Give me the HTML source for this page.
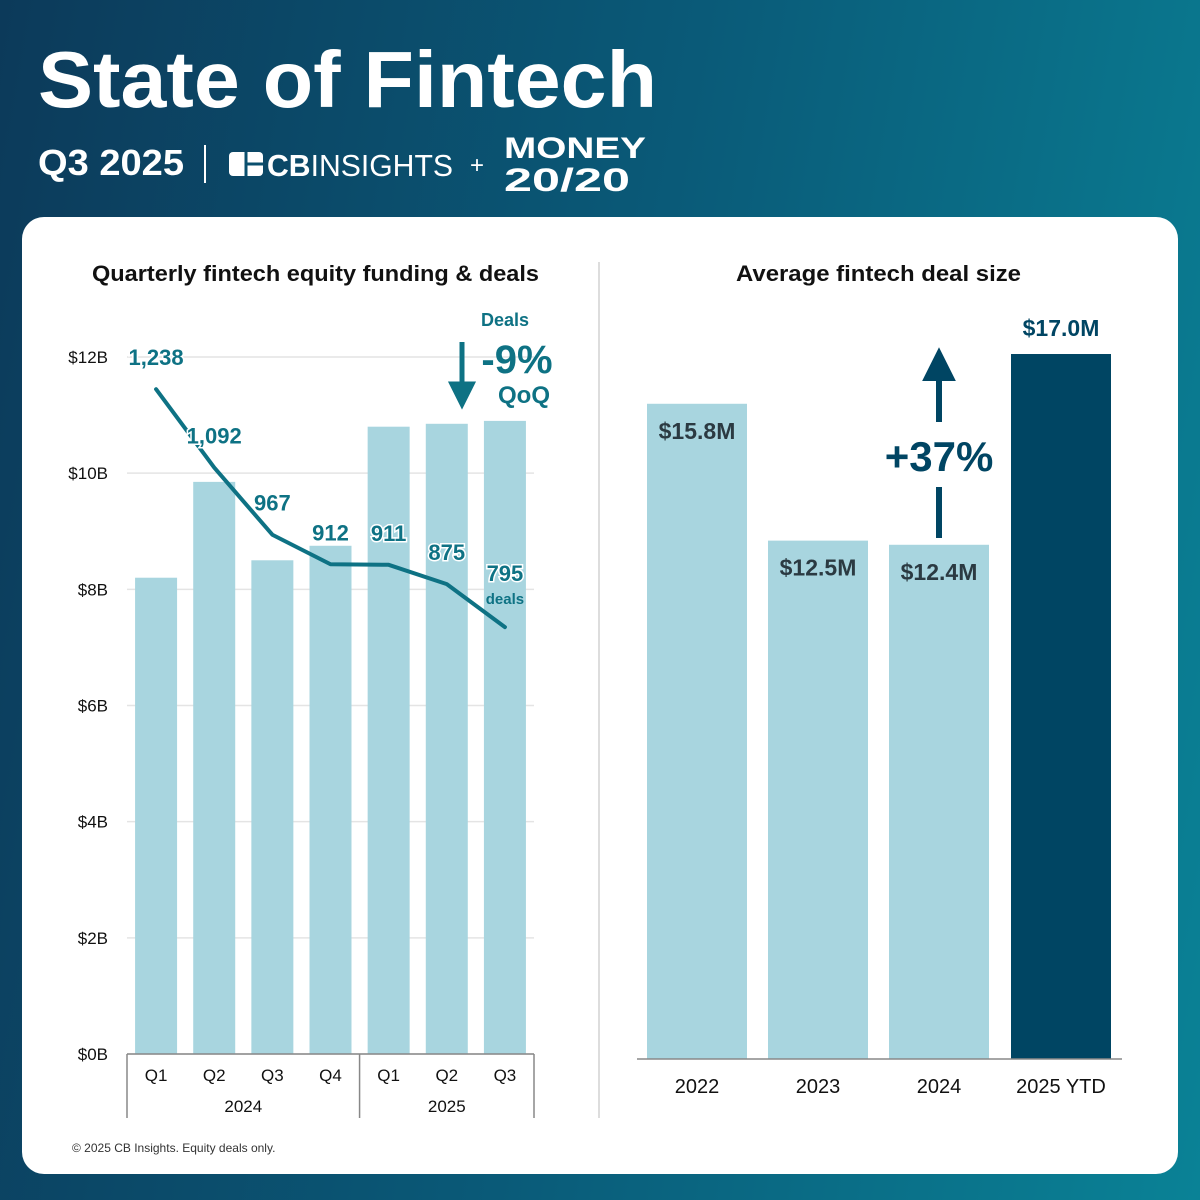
<!DOCTYPE html>
<html><head><meta charset="utf-8"><style>
html,body{margin:0;padding:0;width:1200px;height:1200px;overflow:hidden;font-family:"Liberation Sans",sans-serif}
#bg{position:absolute;left:0;top:0;width:1200px;height:1200px;background:linear-gradient(100deg,#0c3a5a 0%,#0a5a78 50%,#0a8296 100%)}
</style></head><body>
<div id="bg"></div>
<svg id="svg" width="1200" height="1200" style="position:absolute;left:0;top:0" font-family="Liberation Sans, sans-serif">
<text x="38" y="107" fill="#fff" font-size="80" font-weight="bold" textLength="619" lengthAdjust="spacingAndGlyphs">State of Fintech</text>
<text x="38" y="175" fill="#fff" font-size="36" font-weight="bold" textLength="146" lengthAdjust="spacingAndGlyphs">Q3 2025</text>
<line x1="205" y1="145" x2="205" y2="183" stroke="#fff" stroke-width="2"/>
<g>
<rect x="229" y="152" width="34" height="24" rx="4" fill="#fff"/>
<line x1="246" y1="152" x2="246" y2="176" stroke="#0a4f6e" stroke-width="3"/>
<line x1="246" y1="164" x2="263" y2="164" stroke="#0a4f6e" stroke-width="3"/>
<text x="267" y="176" fill="#fff" font-size="31" textLength="186" lengthAdjust="spacingAndGlyphs"><tspan font-weight="bold">CB</tspan>INSIGHTS</text>
</g>
<text x="470" y="173" fill="#fff" font-size="24">+</text>
<text x="504" y="158" fill="#fff" font-size="30" font-weight="bold" textLength="142" lengthAdjust="spacingAndGlyphs">MONEY</text>
<text x="504" y="191" fill="#fff" font-size="32" font-weight="bold" textLength="126" lengthAdjust="spacingAndGlyphs">20/20</text>
<rect x="22" y="217" width="1156" height="957" rx="22" fill="#fff"/>
<line x1="599" y1="262" x2="599" y2="1118" stroke="#ddd" stroke-width="2"/>
<text x="92" y="281" font-size="22" font-weight="bold" fill="#111" textLength="447" lengthAdjust="spacingAndGlyphs">Quarterly fintech equity funding &amp; deals</text>
<text x="736" y="281" font-size="22" font-weight="bold" fill="#111" textLength="285" lengthAdjust="spacingAndGlyphs">Average fintech deal size</text>
<g id="left"></g><g id="right"></g>
<text x="72" y="1152" font-size="12" fill="#333">© 2025 CB Insights. Equity deals only.</text>
</svg>
<script>
const quarters=["Q1","Q2","Q3","Q4","Q1","Q2","Q3"];
const years=["2024","2025"];
const funding=[8.2,9.85,8.5,8.75,10.8,10.85,10.9];
const deals=[1238,1092,967,912,911,875,795];
const yTicks=[0,2,4,6,8,10,12];
const dsYears=["2022","2023","2024","2025 YTD"];
const dsValues=[15.8,12.5,12.4,17.0];

const NS="http://www.w3.org/2000/svg";
function el(tag,attrs,parent,txt){const e=document.createElementNS(NS,tag);for(const k in attrs)e.setAttribute(k,attrs[k]);if(txt!=null)e.textContent=txt;parent.appendChild(e);return e;}
const L=document.getElementById('left'),R=document.getElementById('right');
const x0=127,x1=534,yb=1054,yt=357;
const yF=v=>yb-(v/12)*(yb-yt);
const yD=d=>yb-(d/1298)*(yb-yt);
const step=(x1-x0)/7;
const xC=i=>x0+step*(i+0.5);
yTicks.forEach(t=>{
 const g=el('line',{x1:x0,x2:x1,y1:yF(t),y2:yF(t),stroke:'#e4e4e4','stroke-width':1.5},L);
 
 
 const tx=el('text',{x:108,y:yF(t)+6,'text-anchor':'end','font-size':17,fill:'#111'},L,'$'+t+'B');
 
 
});
funding.forEach((v,i)=>{
 const r=el('rect',{x:xC(i)-21,y:yF(v),width:42,height:yb-yF(v),fill:'#a8d5df'},L);
 
 
 const q=el('text',{x:xC(i),y:1081,'text-anchor':'middle','font-size':17,fill:'#111'},L,quarters[i]);
 
 
});
el('line',{x1:x0,x2:x1,y1:yb,y2:yb,stroke:'#888','stroke-width':1.5},L);
[x0,x0+step*4,x1].forEach(x=>{const l=el('line',{x1:x,x2:x,y1:yb,y2:1118,stroke:'#888','stroke-width':1.5},L);});
const y1t=el('text',{x:(x0+x0+step*4)/2,y:1112,'text-anchor':'middle','font-size':17,fill:'#111'},L,years[0]);

const y2t=el('text',{x:(x0+step*4+x1)/2,y:1112,'text-anchor':'middle','font-size':17,fill:'#111'},L,years[1]);

const pts=deals.map((d,i)=>xC(i)+','+yD(d)).join(' ');
const pl=el('polyline',{points:pts,fill:'none',stroke:'#0e7284','stroke-width':4,'stroke-linejoin':'round','stroke-linecap':'round'},L);


const off=[[0,-24],[0,-24],[0,-24],[0,-24],[0,-24],[0,-24],[0,-46]];
deals.forEach((d,i)=>{
 const t=el('text',{x:xC(i)+off[i][0],y:yD(d)+off[i][1],'text-anchor':'middle','font-size':22,'font-weight':'bold',fill:'#0e7284',stroke:'#fff','stroke-width':3,'paint-order':'stroke'},L,d.toLocaleString('en-US'));
 
 
});
const dl=el('text',{x:xC(6),y:yD(deals[6])-23,'text-anchor':'middle','font-size':15,'font-weight':'bold',fill:'#0e7284'},L,'deals');

const a1=el('text',{x:505,y:326,'text-anchor':'middle','font-size':18,'font-weight':'bold',fill:'#0e7284'},L,'Deals');

const a2=el('text',{x:517,y:373,'text-anchor':'middle','font-size':40,'font-weight':'bold',fill:'#0e7284'},L,'-9%');

const a3=el('text',{x:524,y:403,'text-anchor':'middle','font-size':24,'font-weight':'bold',fill:'#0e7284'},L,'QoQ');

const ar=el('path',{d:'M462 342 V388 M452 384 L472 384 L462 404 Z',stroke:'#0e7284','stroke-width':5,fill:'#0e7284'},L);

const rb=1059,pxM=41.47;
const yR=v=>rb-v*pxM;
const rx=[647,768,889,1011];
dsValues.forEach((v,i)=>{
 const last=i===dsValues.length-1;
 const r=el('rect',{x:rx[i],y:yR(v),width:100,height:rb-yR(v),fill:last?'#004563':'#a8d5df'},R);
 
 
 const t=el('text',{x:rx[i]+50,y:last?yR(v)-18:yR(v)+35,'text-anchor':'middle','font-size':23,'font-weight':'bold',fill:last?'#004563':'#2b3a42'},R,'$'+v.toFixed(1)+'M');
 
 
 const c=el('text',{x:rx[i]+50,y:1093,'text-anchor':'middle','font-size':20,fill:'#111'},R,dsYears[i]);
 
 
});
el('line',{x1:637,x2:1122,y1:rb,y2:rb,stroke:'#888','stroke-width':1.5},R);
const up=el('path',{d:'M939 422 V370 M927 378 L951 378 L939 354 Z M939 487 V538',stroke:'#004563','stroke-width':6,fill:'#004563'},R);

const pc=el('text',{x:939,y:471,'text-anchor':'middle','font-size':42,'font-weight':'bold',fill:'#004563'},R,'+37%');

</script>
</body></html>
